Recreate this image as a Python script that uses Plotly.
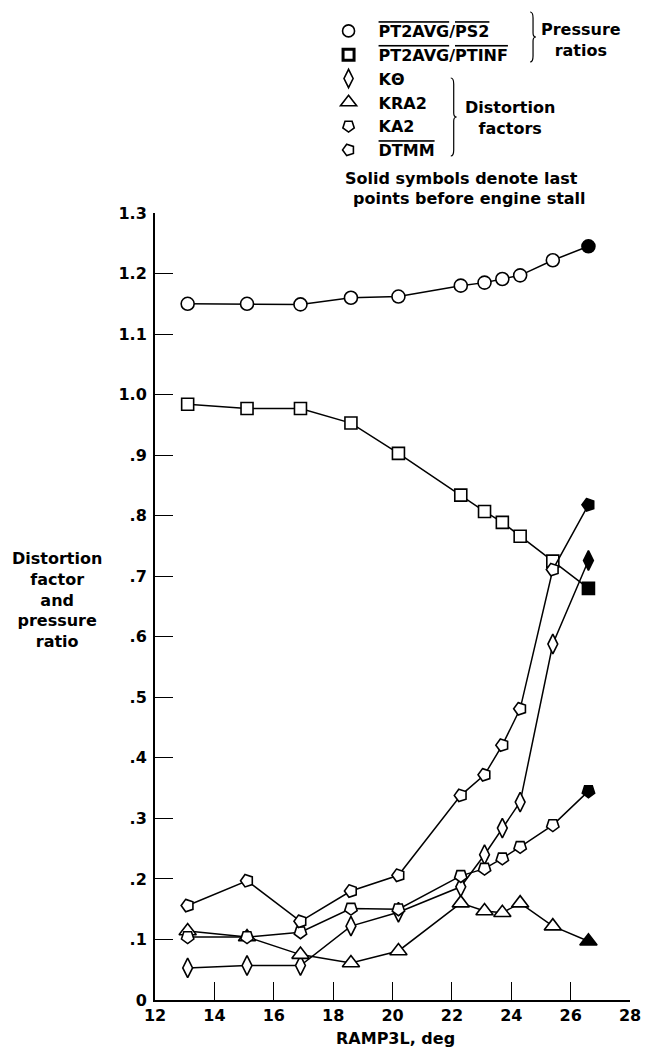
import plotly.graph_objects as go

# ---- data ----
ramp = [13.1, 15.1, 16.9, 18.6, 20.2, 22.3, 23.1, 23.7, 24.3, 25.4, 26.6]
pt2avg_ps2 = [1.150, 1.150, 1.149, 1.160, 1.162, 1.180, 1.185, 1.191, 1.197, 1.222, 1.245]
pt2avg_ptinf = [0.984, 0.977, 0.977, 0.953, 0.903, 0.834, 0.807, 0.789, 0.766, 0.725, 0.680]
k_theta = [0.053, 0.057, 0.057, 0.122, 0.145, 0.187, 0.240, 0.284, 0.327, 0.588, 0.726]
kra2 = [0.114, 0.104, 0.075, 0.061, 0.081, 0.160, 0.147, 0.144, 0.160, 0.122, 0.097]
ka2 = [0.104, 0.104, 0.112, 0.151, 0.150, 0.205, 0.217, 0.234, 0.253, 0.289, 0.345]
dtmm = [0.156, 0.197, 0.130, 0.180, 0.206, 0.338, 0.372, 0.421, 0.481, 0.711, 0.818]

x_ticks = [12, 14, 16, 18, 20, 22, 24, 26, 28]
y_ticks = [0, 0.1, 0.2, 0.3, 0.4, 0.5, 0.6, 0.7, 0.8, 0.9, 1.0, 1.1, 1.2, 1.3]
y_ticktext = ["0", ".1", ".2", ".3", ".4", ".5", ".6", ".7", ".8", ".9", "1.0", "1.1", "1.2", "1.3"]

OL = '<span style="text-decoration:overline">{}</span>'
series = [
    (OL.format("PT2AVG") + "/" + OL.format("PS2"), pt2avg_ps2, "circle", 13, 0, 1.6),
    (OL.format("PT2AVG") + "/" + OL.format("PTINF"), pt2avg_ptinf, "square", 12, 0, 3.0),
    ("KΘ", k_theta, "diamond-tall", 14, 0, 1.6),
    ("KRA2", kra2, "triangle-up", 15, 0, 1.6),
    ("KA2", ka2, "pentagon", 13, 180, 1.6),
    (OL.format("DTMM"), dtmm, "pentagon", 13, 270, 1.6),
]

FONT = "DejaVu Sans, Verdana, sans-serif"
FS = 16

fig = go.Figure()
for name, vals, sym, size, ang, lw in series:
    n = len(vals)
    fig.add_trace(go.Scatter(
        x=ramp, y=vals, name=name, mode="lines+markers", showlegend=False,
        line=dict(color="black", width=1.5),
        marker=dict(symbol=sym, size=size, angle=ang,
                    color=["white"] * (n - 1) + ["black"],
                    line=dict(color="black", width=1.6)),
        cliponaxis=False,
    ))
# marker-only legend entries (no data drawn)
for name, vals, sym, size, ang, lw in series:
    fig.add_trace(go.Scatter(
        x=[None], y=[None], name=name, mode="markers", showlegend=True,
        marker=dict(symbol=sym, size=size - 1, angle=ang, color="white",
                    line=dict(color="black", width=lw)),
    ))

W, H = 653, 1057
L, R, T, B = 155, 13, 213, 57
pw, ph = W - L - R, H - T - B


def px(p):
    return (p - L) / pw


def py(p):
    return (H - B - p) / ph


def ann(text, x, y, **kw):
    d = dict(text=text, x=px(x), y=py(y), xref="paper", yref="paper",
             showarrow=False, xanchor="center", yanchor="middle",
             font=dict(size=FS), align="center")
    d.update(kw)
    return d


annotations = [
    ann("Pressure<br>ratios", 590, 40),
    ann("Distortion<br>factors", 517, 118),
    ann("Solid symbols denote last", 468, 178),
    ann("points before engine stall", 476, 199),
    ann("Distortion<br>factor<br>and<br>pressure<br>ratio", 55, 600),
    ann("RAMP3L, deg", 401, 1038),
]


def brace(xc, y0, y1, w=3):
    ym = (y0 + y1) / 2
    pts = [
        f"M {px(xc - w)},{py(y0)}",
        f"Q {px(xc)},{py(y0)} {px(xc)},{py(y0 + 6)}",
        f"L {px(xc)},{py(ym - 4)}",
        f"Q {px(xc)},{py(ym)} {px(xc + w)},{py(ym)}",
        f"Q {px(xc)},{py(ym)} {px(xc)},{py(ym + 4)}",
        f"L {px(xc)},{py(y1 - 6)}",
        f"Q {px(xc)},{py(y1)} {px(xc - w)},{py(y1)}",
    ]
    return dict(type="path", xref="paper", yref="paper", path=" ".join(pts),
                line=dict(color="black", width=1.2))


shapes = [brace(541, 12, 62), brace(460, 78, 156)]

fig.update_layout(
    width=W, height=H,
    margin=dict(l=L, r=R, t=T, b=B, pad=0),
    paper_bgcolor="white", plot_bgcolor="white",
    font=dict(family=FONT, size=FS, color="black", weight="bold"),
    showlegend=True,
    legend=dict(x=px(322), y=py(14), xanchor="left", yanchor="top",
                bgcolor="rgba(0,0,0,0)", font=dict(size=FS), itemwidth=50,
                tracegroupgap=0),
    annotations=annotations,
    shapes=shapes,
    xaxis=dict(range=[12, 28], tickvals=x_ticks, ticks="inside", ticklen=18,
               tickwidth=1.2, tickcolor="black", showline=True, linecolor="black",
               linewidth=2, showgrid=False, zeroline=False),
    yaxis=dict(range=[0, 1.3], tickvals=y_ticks, ticktext=y_ticktext, ticks="inside",
               ticklen=18, tickwidth=1.2, tickcolor="black", showline=True,
               linecolor="black", linewidth=2, showgrid=False, zeroline=False,
               ticklabelstandoff=3),
)

fig.write_html(
    "out.html",
    config={"displayModeBar": False},
    post_script="document.body.style.margin='0px';document.body.style.padding='0px';",
)
